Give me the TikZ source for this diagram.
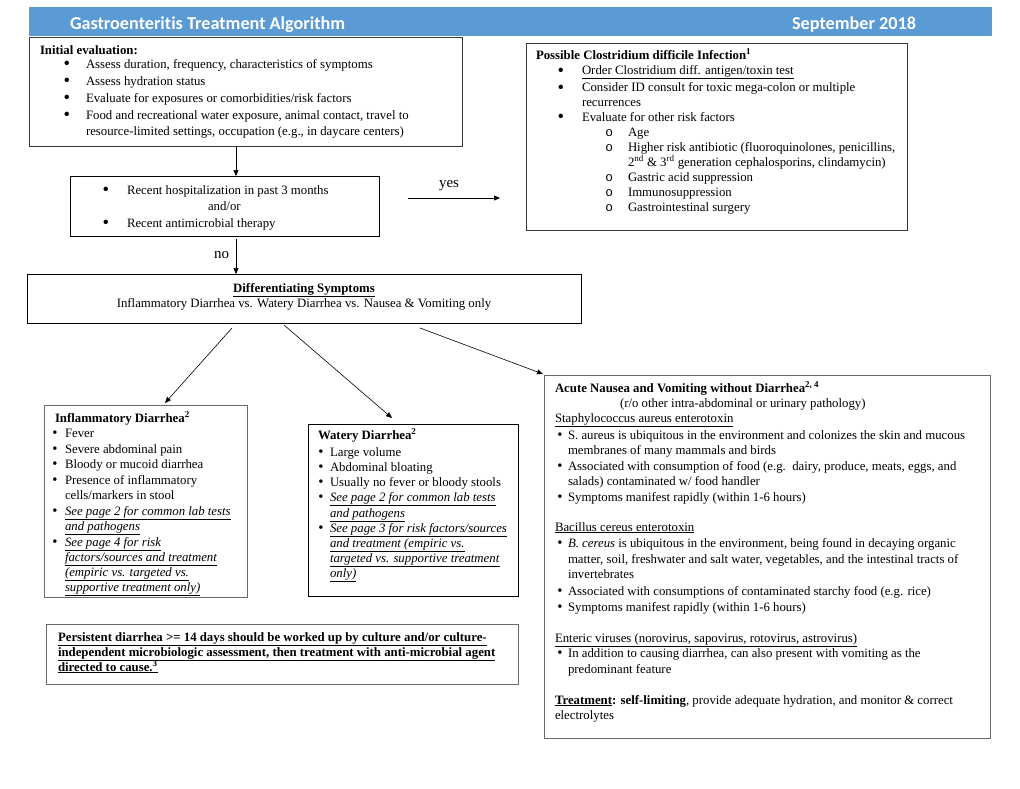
\documentclass[tikz,border=0pt]{standalone}
\usepackage{graphicx}
\usepackage{fontspec}
\setmainfont{Liberation Serif}
\newfontfamily\hdrfont[Ligatures=NoCommon]{Carlito}
\newfontfamily\subfont{Liberation Mono}
\usetikzlibrary{arrows.meta}
\definecolor{hdrblue}{HTML}{5B9BD5}
\definecolor{dgray}{HTML}{383838}
\definecolor{mgray}{HTML}{6A6A6A}
\newcommand\bul{\raisebox{-0.13em}{\scalebox{1.45}{\textbullet}}}
\newcommand\bus{\raisebox{-0.05em}{\scalebox{1.15}{\textbullet}}}
\newcommand\Bu[1]{\llap{\smash{\bul}\hspace{#1}}}
\newcommand\Bs[1]{\llap{\smash{\bus}\hspace{#1}}}
\newcommand\Sb{\llap{{\subfont o}\hspace{15pt}}}
\begin{document}
\begin{tikzpicture}[x=1pt,y=-1pt,
  boxk/.style={draw=black, line width=0.8pt, inner sep=0pt, outer sep=0pt, anchor=north west},
  boxd/.style={draw=dgray, line width=0.8pt, inner sep=0pt, outer sep=0pt, anchor=north west},
  boxm/.style={draw=mgray, line width=0.9pt, inner sep=0pt, outer sep=0pt, anchor=north west},
  txt/.style={anchor=base west, inner sep=0pt, outer sep=0pt, font=\fontsize{12.8}{15}\selectfont},
  txtb/.style={anchor=base west, inner sep=0pt, outer sep=0pt, font=\fontsize{12.8}{15}\selectfont\bfseries},
  hdrtxt/.style={inner sep=0pt, outer sep=0pt, text=white, font=\hdrfont\bfseries\fontsize{18.2}{21}\selectfont},
  lbl/.style={anchor=base west, inner sep=0pt, outer sep=0pt, font=\fontsize{15}{18}\selectfont},
  arr/.style={-{Triangle[length=6pt,width=5pt]}, line width=0.6pt}]
\useasboundingbox (0,0) rectangle (1020,788);

% header
\node[fill=hdrblue, minimum width=963pt, minimum height=29pt, inner sep=0pt, outer sep=0pt, anchor=north west] (hdr) at (29,7) {};
\node[hdrtxt, anchor=base west] (t1) at (70,29) {Gastroenteritis Treatment Algorithm};
\node[hdrtxt, anchor=base east] (t2) at (916,29) {September 2018};

% boxes
\node[boxd, minimum width=433pt, minimum height=109pt] (init) at (29,37) {};
\node[boxk, minimum width=309pt, minimum height=60pt] (hosp) at (70,176) {};
\node[boxk, minimum width=554pt, minimum height=49pt] (diff) at (27,274) {};
\node[boxd, minimum width=381pt, minimum height=187pt] (clos) at (526,43) {};
\node[boxm, minimum width=203pt, minimum height=192pt] (inflam) at (44,405) {};
\node[boxk, minimum width=210pt, minimum height=172pt] (watery) at (308,424) {};
\node[boxm, minimum width=472pt, minimum height=60pt] (persist) at (46,624) {};
\node[boxm, minimum width=446pt, minimum height=363pt] (acute) at (544,375) {};

% initial evaluation
\node[txtb] (i0) at (40,54) {Initial evaluation:};
\node[txt] (i1) at (86,68) {\Bu{15.8pt}Assess duration, frequency, characteristics of symptoms};
\node[txt] (i2) at (86,85) {\Bu{15.8pt}Assess hydration status};
\node[txt] (i3) at (86,102) {\Bu{15.8pt}Evaluate for exposures or comorbidities/risk factors};
\node[txt] (i4) at (86,119) {\Bu{15.8pt}Food and recreational water exposure, animal contact, travel to};
\node[txt] (i5) at (86,135) {resource-limited settings, occupation (e.g., in daycare centers)};

% hospitalization
\node[txt] (h1) at (127,194) {\Bu{17.8pt}Recent hospitalization in past 3 months};
\node[txt] (h2) at (208,210) {and/or};
\node[txt] (h3) at (127,227) {\Bu{17.8pt}Recent antimicrobial therapy};

% differentiating
\node[txtb, anchor=base] (d0) at (304,292) {\underline{Differentiating Symptoms}};
\node[txt, anchor=base] (d1) at (304,307) {Inflammatory Diarrhea vs. Watery Diarrhea vs. Nausea \& Vomiting only};

% clostridium
\node[txtb] (c0) at (536,59) {Possible Clostridium difficile Infection\textsuperscript{1}};
\node[txt] (c1) at (582,74.5) {\Bu{17.8pt}\smash{\underline{Order Clostridium diff. antigen/toxin test}}};
\node[txt] (c2) at (582,91.5) {\Bu{17.8pt}Consider ID consult for toxic mega-colon or multiple};
\node[txt] (c3) at (582,106) {recurrences};
\node[txt] (c4) at (582,121) {\Bu{17.8pt}Evaluate for other risk factors};
\node[txt] (c5) at (628,136) {\Sb Age};
\node[txt] (c6) at (628,151) {\Sb Higher risk antibiotic (fluoroquinolones, penicillins,};
\node[txt] (c7) at (628,166) {2\textsuperscript{nd} \& 3\textsuperscript{rd} generation cephalosporins, clindamycin)};
\node[txt] (c8) at (628,181) {\Sb Gastric acid suppression};
\node[txt] (c9) at (628,196) {\Sb Immunosuppression};
\node[txt] (c10) at (628,211) {\Sb Gastrointestinal surgery};

% inflammatory
\node[txtb] (f0) at (55,422) {Inflammatory Diarrhea\textsuperscript{2}};
\node[txt] (f1) at (65,437) {\Bs{7.5pt}Fever};
\node[txt] (f2) at (65,453) {\Bs{7.5pt}Severe abdominal pain};
\node[txt] (f3) at (65,468) {\Bs{7.5pt}Bloody or mucoid diarrhea};
\node[txt] (f4) at (65,484) {\Bs{7.5pt}Presence of inflammatory};
\node[txt] (f5) at (65,499) {cells/markers in stool};
\node[txt] (f6) at (65,515) {\Bs{7.5pt}\underline{\textit{See page 2 for common lab tests}}};
\node[txt] (f7) at (65,530) {\underline{\textit{and pathogens}}};
\node[txt] (f8) at (65,546) {\Bs{7.5pt}\underline{\textit{See page 4 for risk}}};
\node[txt] (f9) at (65,561) {\underline{\textit{factors/sources and treatment}}};
\node[txt] (f10) at (65,576) {\underline{\textit{(empiric vs. targeted vs.}}};
\node[txt] (f11) at (65,591) {\underline{\textit{supportive treatment only)}}};

% watery
\node[txtb] (w0) at (318,439) {Watery Diarrhea\textsuperscript{2}};
\node[txt] (w1) at (330,456) {\Bs{6.5pt}Large volume};
\node[txt] (w2) at (330,471) {\Bs{6.5pt}Abdominal bloating};
\node[txt] (w3) at (330,486) {\Bs{6.5pt}Usually no fever or bloody stools};
\node[txt] (w4) at (330,501) {\Bs{6.5pt}\underline{\textit{See page 2 for common lab tests}}};
\node[txt] (w5) at (330,517) {\underline{\textit{and pathogens}}};
\node[txt] (w6) at (330,532) {\Bs{6.5pt}\underline{\textit{See page 3 for risk factors/sources}}};
\node[txt] (w7) at (330,547) {\underline{\textit{and treatment (empiric vs.}}};
\node[txt] (w8) at (330,562) {\underline{\textit{targeted vs. supportive treatment}}};
\node[txt] (w9) at (330,577) {\underline{\textit{only)}}};

% persistent
\node[txtb] (p1) at (58,641) {\underline{Persistent diarrhea >= 14 days should be worked up by culture and/or culture-}};
\node[txtb] (p2) at (58,656) {\underline{independent microbiologic assessment, then treatment with anti-microbial agent}};
\node[txtb] (p3) at (58,671) {\underline{directed to cause.\textsuperscript{3}}};

% acute
\node[txtb] (a0) at (555,392) {Acute Nausea and Vomiting without Diarrhea\textsuperscript{2, 4}};
\node[txt] (a1) at (620,407) {(r/o other intra-abdominal or urinary pathology)};
\node[txt] (a2) at (555,422) {\underline{Staphylococcus aureus enterotoxin}};
\node[txt] (a3) at (568,439) {\Bs{5.5pt}S. aureus is ubiquitous in the environment and colonizes the skin and mucous};
\node[txt] (a4) at (568,454) {membranes of many mammals and birds};
\node[txt] (a5) at (568,470) {\Bs{5.5pt}Associated with consumption of food (e.g.\ \ dairy, produce, meats, eggs, and};
\node[txt] (a6) at (568,485) {salads) contaminated w/ food handler};
\node[txt] (a7) at (568,501) {\Bs{5.5pt}Symptoms manifest rapidly (within 1-6 hours)};
\node[txt] (a8) at (555,531) {\underline{Bacillus cereus enterotoxin}};
\node[txt] (a9) at (568,547) {\Bs{5.5pt}\textit{B. cereus} is ubiquitous in the environment, being found in decaying organic};
\node[txt] (a10) at (568,563) {matter, soil, freshwater and salt water, vegetables, and the intestinal tracts of};
\node[txt] (a11) at (568,578) {invertebrates};
\node[txt] (a12) at (568,595) {\Bs{5.5pt}Associated with consumptions of contaminated starchy food (e.g. rice)};
\node[txt] (a13) at (568,611) {\Bs{5.5pt}Symptoms manifest rapidly (within 1-6 hours)};
\node[txt] (a14) at (555,642) {\underline{Enteric viruses (norovirus, sapovirus, rotovirus, astrovirus)}};
\node[txt] (a15) at (568,657) {\Bs{5.5pt}In addition to causing diarrhea, can also present with vomiting as the};
\node[txt] (a16) at (568,673) {predominant feature};
\node[txt] (a17) at (555,704) {\textbf{\underline{Treatment}: self-limiting}, provide adequate hydration, and monitor \& correct};
\node[txt] (a18) at (555,719) {electrolytes};

% connectors
\coordinate (xa) at (236,0);
\draw[arr] (xa |- init.south) -- (xa |- hosp.north);
\draw[arr] ([yshift=-3pt]xa |- hosp.south) -- (xa |- diff.north);
\node[lbl] (no) at (214,258) {no};
\coordinate (ys) at (408,198);
\coordinate (ye) at (500,198);
\draw[arr] (ys) -- (ye);
\node[lbl] (yes) at (439,187) {yes};
\draw[arr] ([xshift=205pt,yshift=-5pt]diff.south west) -- ([xshift=121pt,yshift=2pt]inflam.north west);
\draw[arr] ([xshift=257pt,yshift=-2pt]diff.south west) -- ([xshift=84pt,yshift=6pt]watery.north west);
\draw[arr] ([xshift=393pt,yshift=-5pt]diff.south west) -- ([xshift=-1pt,yshift=1pt]acute.north west);
\end{tikzpicture}
\end{document}
